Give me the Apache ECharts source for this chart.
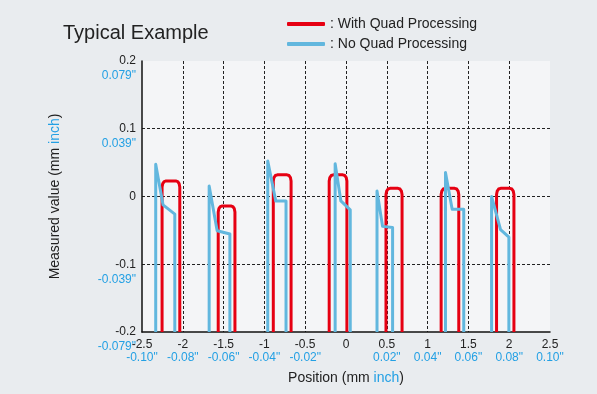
<!DOCTYPE html>
<html>
<head>
<meta charset="utf-8">
<script src="https://cdn.jsdelivr.net/npm/echarts@6/dist/echarts.min.js"></script>
<style>
  html, body { margin: 0; padding: 0; background: #e9ecef; }
  #chart { width: 597px; height: 394px; }
</style>
</head>
<body>
<div id="chart"></div>
<script>
// x axis ticks (mm) and their inch labels
const xTicks = [-2.5, -2, -1.5, -1, -0.5, 0, 0.5, 1, 1.5, 2, 2.5];
const xInch = ['-0.10"', '-0.08"', '-0.06"', '-0.04"', '-0.02"', '', '0.02"', '0.04"', '0.06"', '0.08"', '0.10"'];
// y axis ticks (mm) and their inch labels
const yTicks = [-0.2, -0.1, 0, 0.1, 0.2];
const yInch = ['-0.079"', '-0.039"', '', '0.039"', '0.079"'];

// With Quad Processing: left edge, right edge, top of each profile (mm)
const quadLeft = [-2.254, -1.566, -0.891, -0.206, 0.490, 1.166, 1.845];
const quadRight = [-2.037, -1.361, -0.673, 0.011, 0.687, 1.382, 2.058];
const quadTop = [0.023, -0.014, 0.032, 0.032, 0.012, 0.012, 0.012];

// No Quad Processing: rising edge x, peak, knee point, end point (mm)
const rawX = [-2.332, -1.677, -0.959, -0.133, 0.380, 1.219, 1.784];
const rawPeak = [0.0475, 0.0156, 0.0524, 0.0485, 0.0082, 0.0353, 0.0];
const rawKneeX = [-2.242, -1.579, -0.861, -0.063, 0.448, 1.301, 1.894];
const rawKneeY = [-0.0124, -0.0506, -0.0065, -0.0065, -0.0441, -0.0187, -0.049];
const rawEndX = [-2.098, -1.423, -0.735, 0.052, 0.571, 1.443, 1.996];
const rawEndY = [-0.026, -0.0554, -0.0065, -0.0197, -0.0456, -0.0187, -0.060];

const yMin = -0.2;
const RED = '#e60012';
const BLUE = '#62b7de';
const INCH = '#23a0e4';
const FONT = '"Liberation Sans", Arial, sans-serif';

function quadPath(L, R, T) {
  return [[L, yMin], [L, T - 0.009], [L + 0.008, T - 0.004], [L + 0.025, T - 0.001], [L + 0.05, T],
          [R - 0.05, T], [R - 0.025, T - 0.001], [R - 0.008, T - 0.004], [R, T - 0.009], [R, yMin]];
}

const series = [];
quadLeft.forEach((L, i) => {
  series.push({
    name: 'With Quad Processing', type: 'line', symbol: 'none', z: 2,
    lineStyle: { color: RED, width: 3, join: 'round' }, itemStyle: { color: RED },
    data: quadPath(L, quadRight[i], quadTop[i])
  });
});
rawX.forEach((x, i) => {
  series.push({
    name: 'No Quad Processing', type: 'line', symbol: 'none', z: 3,
    lineStyle: { color: BLUE, width: 3, join: 'round' }, itemStyle: { color: BLUE },
    data: [[x, yMin], [x, rawPeak[i]], [rawKneeX[i], rawKneeY[i]], [rawEndX[i], rawEndY[i]], [rawEndX[i], yMin]]
  });
});

const chart = echarts.init(document.getElementById('chart'));
chart.setOption({
  backgroundColor: '#e9ecef',
  animation: false,
  textStyle: { fontFamily: FONT },
  title: {
    text: 'Typical Example', left: 58, top: 18,
    textStyle: { fontSize: 20, fontWeight: 'normal', color: '#222', fontFamily: FONT }
  },
  legend: {
    orient: 'vertical', left: 282, top: 12, itemGap: 6,
    itemWidth: 38, itemHeight: 4, icon: 'roundRect',
    data: ['With Quad Processing', 'No Quad Processing'],
    formatter: name => ': ' + name,
    textStyle: { fontSize: 14, color: '#222', fontFamily: FONT }
  },
  grid: {
    left: 142, right: 47, top: 61, bottom: 62,
    show: true, backgroundColor: '#f4f5f7', borderWidth: 0
  },
  xAxis: {
    type: 'value', min: -2.5, max: 2.5, interval: 0.5,
    name: 'Position (mm {b|inch})', nameLocation: 'middle', nameGap: 39,
    nameTextStyle: { fontSize: 14, color: '#222', fontFamily: FONT, rich: { b: { fontSize: 14, color: INCH, fontFamily: FONT } } },
    axisLine: { onZero: false, lineStyle: { color: '#111', width: 1.5 } },
    axisTick: { show: false },
    axisLabel: {
      margin: 6,
      formatter: v => {
        const i = xTicks.findIndex(t => Math.abs(t - v) < 1e-6);
        if (i < 0) return '';
        return xInch[i] ? '{a|' + xTicks[i] + '}\n{b|' + xInch[i] + '}' : '{a|' + xTicks[i] + '}';
      },
      rich: {
        a: { fontSize: 12, color: '#222', lineHeight: 13, fontFamily: FONT },
        b: { fontSize: 12, color: INCH, lineHeight: 13, fontFamily: FONT }
      }
    },
    splitLine: { show: true, showMinLine: false, showMaxLine: false, lineStyle: { color: '#222', type: [3, 2], width: 1 } }
  },
  yAxis: {
    type: 'value', min: -0.2, max: 0.2, interval: 0.1,
    name: 'Measured value (mm {b|inch})', nameLocation: 'middle', nameGap: 80,
    nameTextStyle: { fontSize: 14, color: '#222', fontFamily: FONT, rich: { b: { fontSize: 14, color: INCH, fontFamily: FONT } } },
    axisLine: { show: true, onZero: false, lineStyle: { color: '#111', width: 1.5 } },
    axisTick: { show: false },
    axisLabel: {
      margin: 6,
      formatter: v => {
        const i = yTicks.findIndex(t => Math.abs(t - v) < 1e-6);
        if (i < 0) return '';
        return yInch[i] ? '{e| }\n{a|' + yTicks[i] + '}\n{b|' + yInch[i] + '}' : '{a|' + yTicks[i] + '}';
      },
      rich: {
        e: { fontSize: 12, lineHeight: 15 },
        a: { fontSize: 12, color: '#222', lineHeight: 15, fontFamily: FONT },
        b: { fontSize: 12, color: INCH, lineHeight: 15, fontFamily: FONT }
      }
    },
    splitLine: { show: true, showMinLine: false, showMaxLine: false, lineStyle: { color: '#222', type: [3, 2], width: 1 } }
  },
  series: series
});
</script>
</body>
</html>
